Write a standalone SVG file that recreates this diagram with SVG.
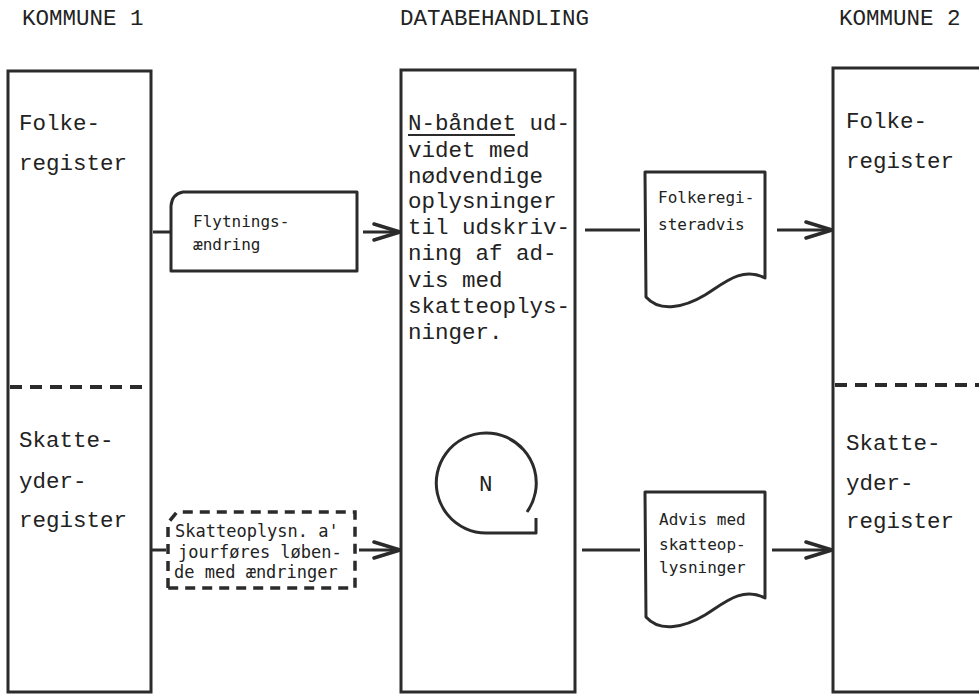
<svg xmlns="http://www.w3.org/2000/svg" width="979" height="695" viewBox="0 0 979 695">
<style>
.col{fill:none;stroke:#2b2b2b;stroke-width:3}
.div{fill:none;stroke:#2b2b2b;stroke-width:4;stroke-dasharray:12 8}
.shape{fill:#fff;stroke:#2b2b2b;stroke-width:3;stroke-linejoin:round}
.dash{fill:#fff;stroke:#2b2b2b;stroke-width:3.5;stroke-dasharray:10 7}
.t{font-family:"Liberation Mono",monospace;font-size:22.5px;fill:#222}
.s{font-family:"DejaVu Sans Mono",monospace;font-size:16px;fill:#222}
.s2{font-family:"DejaVu Sans Mono",monospace;font-size:17px;fill:#222}
.c{fill:none;stroke:#2b2b2b;stroke-width:3}
</style>
<defs>
<marker id="ah" viewBox="0 0 30 20" refX="28" refY="10" markerWidth="30" markerHeight="20" markerUnits="userSpaceOnUse" orient="auto">
<path d="M2,2 L28,10 L2,18" fill="none" stroke="#2b2b2b" stroke-width="3.5" stroke-linecap="round" stroke-linejoin="round"/>
</marker>
</defs>
<rect width="979" height="695" fill="#fff"/>
<g id="headers">
<text class="t" x="22" y="25">KOMMUNE 1</text>
<text class="t" x="400" y="25">DATABEHANDLING</text>
<text class="t" x="839" y="25">KOMMUNE 2</text>
</g>
<g id="kommune1">
<rect class="col" x="8" y="71" width="143" height="621"/>
<line class="div" x1="10" y1="387" x2="150" y2="387"/>
<text class="t" x="19" y="130">Folke-</text>
<text class="t" x="19" y="170">register</text>
<text class="t" x="19" y="447">Skatte-</text>
<text class="t" x="19" y="488">yder-</text>
<text class="t" x="19" y="527">register</text>
</g>
<g id="databehandling">
<rect class="col" x="401" y="70" width="174" height="622"/>
<text class="t" x="408" y="130">N-båndet ud-</text>
<line x1="408" y1="135" x2="515" y2="135" stroke="#2b2b2b" stroke-width="2"/>
<text class="t" x="408" y="157">videt med</text>
<text class="t" x="408" y="183">nødvendige</text>
<text class="t" x="408" y="208">oplysninger</text>
<text class="t" x="408" y="234">til udskriv-</text>
<text class="t" x="408" y="260">ning af ad-</text>
<text class="t" x="408" y="287">vis med</text>
<text class="t" x="408" y="313">skatteoplys-</text>
<text class="t" x="408" y="339">ninger.</text>
</g>
<g id="kommune2">
<rect class="col" x="833" y="68" width="160" height="624"/>
<line class="div" x1="835" y1="385" x2="979" y2="385"/>
<text class="t" x="846" y="128">Folke-</text>
<text class="t" x="846" y="168">register</text>
<text class="t" x="846" y="450">Skatte-</text>
<text class="t" x="846" y="490">yder-</text>
<text class="t" x="846" y="528">register</text>
</g>
<g id="flytning">
<path class="shape" d="M171,271 L171,206 Q172,194 183,192 L357,192 L357,271 Z"/>
<text class="s" x="193" y="227">Flytnings-</text>
<text class="s" x="193" y="250">ændring</text>
</g>
<g id="skatteoplysn">
<path class="dash" d="M168,588 L168,523 L177,512 L355,512 L355,588 Z"/>
<text class="s2" x="175" y="537">Skatteoplysn. a'</text>
<text class="s2" x="178" y="558">jourføres løben-</text>
<text class="s2" x="174" y="578">de med ændringer</text>
</g>
<g id="nband">
<path d="M527,512 A50,50 0 1 0 486,533 L536,533 L536,518" fill="none" stroke="#2b2b2b" stroke-width="3" stroke-linejoin="round"/>
<text class="t" x="479" y="491">N</text>
</g>
<g id="folkeregisteradvis">
<path class="shape" d="M645,172 L765,172 L765,278 C742,266 724,283 705,295 C685,307 660,313 646,297 Z"/>
<text class="s" x="658" y="203">Folkeregi-</text>
<text class="s" x="658" y="230">steradvis</text>
</g>
<g id="advis">
<path class="shape" d="M645,492 L765,492 L765,598 C742,586 724,603 705,615 C685,627 660,633 646,617 Z"/>
<text class="s" x="659" y="525">Advis med</text>
<text class="s" x="659" y="550">skatteop-</text>
<text class="s" x="659" y="573">lysninger</text>
</g>
<g id="connectors">
<line class="c" x1="153" y1="232" x2="171" y2="232"/>
<line class="c" x1="363" y1="232" x2="400" y2="232" marker-end="url(#ah)"/>
<line class="c" x1="151" y1="550" x2="166" y2="550"/>
<line class="c" x1="359" y1="550" x2="400" y2="550" marker-end="url(#ah)"/>
<line class="c" x1="585" y1="230" x2="640" y2="230"/>
<line class="c" x1="777" y1="230" x2="832" y2="230" marker-end="url(#ah)"/>
<line class="c" x1="582" y1="550" x2="640" y2="550"/>
<line class="c" x1="772" y1="550" x2="832" y2="550" marker-end="url(#ah)"/>
</g>
</svg>
